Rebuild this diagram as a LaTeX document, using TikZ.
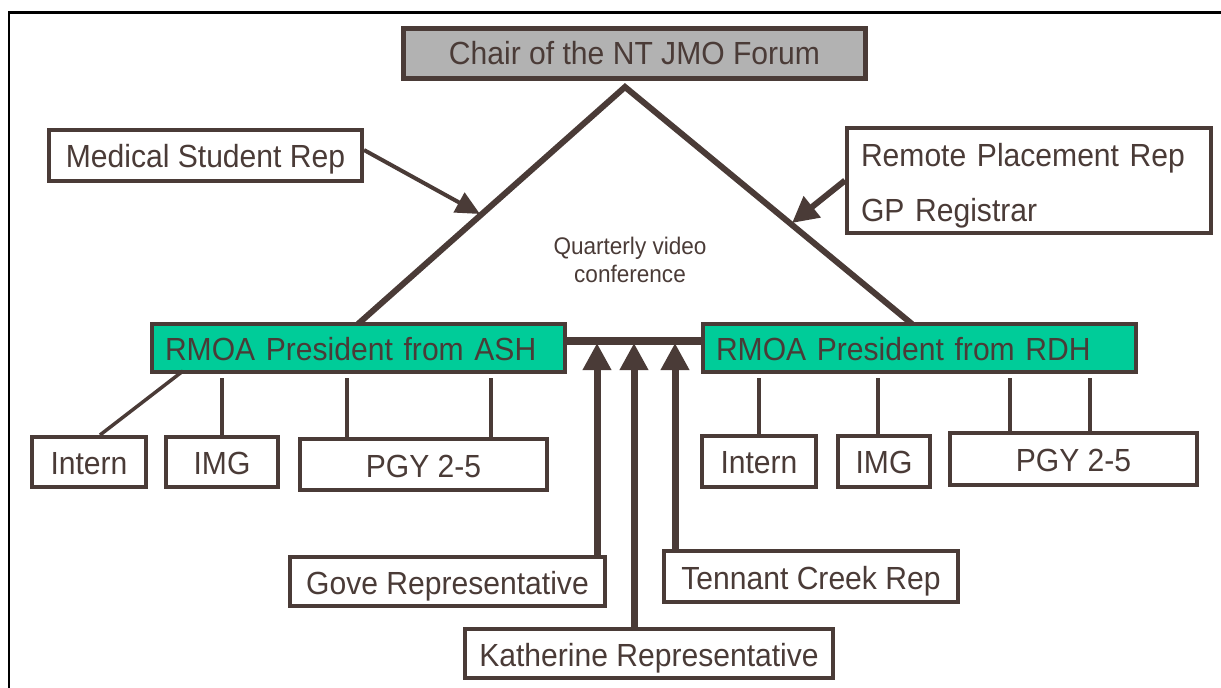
\documentclass[tikz,border=0pt]{standalone}
\usepackage{fontspec}
\setmainfont[FakeStretch=0.94]{Liberation Sans}
\usetikzlibrary{arrows.meta,calc}
\definecolor{brn}{HTML}{4A3B37}
\definecolor{grn}{HTML}{00CC99}
\definecolor{gry}{HTML}{B2B2B2}
\begin{document}
\begin{tikzpicture}[x=1pt,y=-1pt,
  boxbase/.style={draw=brn, line width=4pt, fill=white, inner sep=0pt, text=brn,
    font=\fontsize{32}{38}\selectfont},
  box/.style={boxbase, text height=32pt, text depth=7pt},
  leftbox/.style={box, align=left, inner xsep=13pt},
  conn/.style={draw=brn, line width=3.5pt},
  leg/.style={draw=brn, line width=6pt},
  uparrow/.style={draw=brn, line width=7pt, -{Triangle[width=27pt,length=27pt]}},
]
\useasboundingbox (0,0) rectangle (1221,688);
\draw[black, line width=2.5pt] (9,688) -- (9,12.5) -- (1221,12.5);

% nodes
\node[boxbase, line width=5pt, fill=gry, minimum width=462pt, minimum height=50pt] (chair) at (634.5,53) {Chair of the NT JMO Forum};
\node[box, minimum width=313pt, minimum height=51pt] (med) at (205.5,155) {Medical Student Rep};
\node[boxbase, align=left, inner xsep=14pt, text width=336pt, minimum height=105pt, font=\fontsize{32}{55}\selectfont] (remote) at (1029,180.5) {\rule{0pt}{33pt}Remote Placement Rep\\GP Registrar};
\node[leftbox, fill=grn, text width=387pt, minimum height=48pt] (ash) at (358.5,348) {RMOA President from ASH};
\node[leftbox, fill=grn, text width=407pt, minimum height=48pt] (rdh) at (919.5,348) {RMOA President from RDH};

\node[box, minimum width=114pt, minimum height=50pt] (lint) at (89,462) {Intern};
\node[box, minimum width=112pt, minimum height=50pt] (limg) at (222,462) {IMG};
\node[box, minimum width=247pt, minimum height=51pt] (lpgy) at (423.5,464.5) {PGY 2-5};

\node[box, minimum width=114pt, minimum height=51pt] (rint) at (759,461) {Intern};
\node[box, minimum width=92pt, minimum height=51pt] (rimg) at (884,461) {IMG};
\node[box, minimum width=247pt, minimum height=52pt] (rpgy) at (1073.5,458.5) {PGY 2-5};

\node[box, minimum width=315pt, minimum height=49pt] (gove) at (447.5,581.5) {Gove Representative};
\node[box, minimum width=294pt, minimum height=51pt] (tenn) at (811,576.5) {Tennant Creek Rep};
\node[box, minimum width=368pt, minimum height=49pt] (kath) at (649,653.5) {Katherine Representative};

\node[text=brn, align=center, font=\fontsize{24}{28}\selectfont] (qvc) at (630,260) {Quarterly video\\conference};

% triangle
\coordinate (apex) at (625,87);
\coordinate (rdhtop) at (912,324);
\coordinate (ashtop) at (358,324);
\draw[leg, line join=miter] (ashtop) -- (apex) -- (rdhtop);

% side arrows
\coordinate (medtip) at (480,214);
\coordinate (remtip) at (792,223);
\draw[draw=brn, line width=4pt, -{Triangle[width=22pt,length=24pt]}] ($(med.east)+(0,-5)$) -- (medtip);
\draw[draw=brn, line width=6pt, -{Triangle[width=26pt,length=26pt]}] (remote.west) -- (remtip);

% bar between presidents
\coordinate (bary) at (0,341);
\draw[draw=brn, line width=8pt] (ash.east |- bary) -- (rdh.west |- bary);

% up arrows
\coordinate (a1) at (597,343);
\coordinate (a2) at (634,343);
\coordinate (a3) at (675,343);
\draw[uparrow] (gove.north -| a1) -- (a1);
\draw[uparrow] (kath.north -| a2) -- (a2);
\draw[uparrow] (tenn.north -| a3) -- (a3);

% children connectors
\coordinate (gapy) at (0,378);
\draw[conn] ($(lint.north)+(11,0)$) -- (183,371);
\draw[conn] (limg.north) -- (limg.north |- gapy);
\draw[conn] (lpgy.north -| 347,0) -- (347,378);
\draw[conn] (lpgy.north -| 491,0) -- (491,378);

\draw[conn] (rint.north) -- (rint.north |- gapy);
\draw[conn] (rimg.north -| 878,0) -- (878,378);
\draw[conn] (rpgy.north -| 1010,0) -- (1010,378);
\draw[conn] (rpgy.north -| 1090,0) -- (1090,378);
\end{tikzpicture}
\end{document}
